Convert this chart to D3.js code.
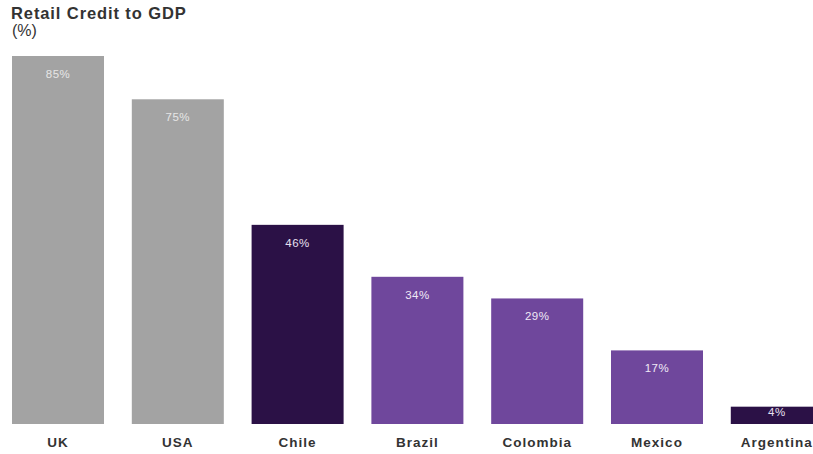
<!DOCTYPE html>
<html><head><meta charset="utf-8">
<script src="https://cdn.jsdelivr.net/npm/d3@7"></script>
<style>body{margin:0;background:#fff;}svg{display:block;font-family:"Liberation Sans",Arial,sans-serif;}</style>
</head><body>
<svg id="c" width="813" height="454"></svg>
<script>
const categories = ["UK","USA","Chile","Brazil","Colombia","Mexico","Argentina"];
const values = [85,75,46,34,29,17,4];
const groups = ["ref","ref","dark","light","light","light","dark"];
const colors = {ref:"#a3a3a3", dark:"#2b1146", light:"#6f479c"};
const labelColors = {ref:"#e6e6e6", dark:"#e8e0f0", light:"#f0eaf6"};

const svg = d3.select("#c");
const x = d3.scaleBand().domain(categories).range([12, 822.8]).paddingInner(0.232).paddingOuter(0);
const y = d3.scaleLinear().domain([0,85]).range([424,56]);

svg.append("text").attr("x",11).attr("y",19).attr("font-size",16.5).attr("font-weight","bold").attr("letter-spacing","0.9px").attr("fill","#333").text("Retail Credit to GDP");
svg.append("text").attr("x",12).attr("y",36).attr("font-size",16).attr("fill","#333").text("(%)");

svg.selectAll("rect.bar").data(categories).join("rect").attr("class","bar")
  .attr("x",d=>x(d)).attr("width",x.bandwidth())
  .attr("y",(d,i)=>y(values[i])).attr("height",(d,i)=>y(0)-y(values[i]))
  .attr("fill",(d,i)=>colors[groups[i]]);

svg.selectAll("text.val").data(categories).join("text").attr("class","val")
  .attr("x",d=>x(d)+x.bandwidth()/2).attr("y",(d,i)=>values[i]<10 ? y(values[i])+9.5 : y(values[i])+22)
  .attr("text-anchor","middle").attr("font-size",11.5).attr("letter-spacing","0.5px").attr("fill",(d,i)=>labelColors[groups[i]])
  .text((d,i)=>values[i]+"%");

const xAxis = svg.append("g").attr("transform","translate(0,424)").call(d3.axisBottom(x).tickSize(0).tickPadding(13));
xAxis.select(".domain").remove();
xAxis.selectAll("text").attr("font-size",13.5).attr("font-weight","bold").attr("fill","#333")
  .attr("font-family","'Liberation Sans',Arial,sans-serif").attr("letter-spacing","1px");
</script>
</body></html>
